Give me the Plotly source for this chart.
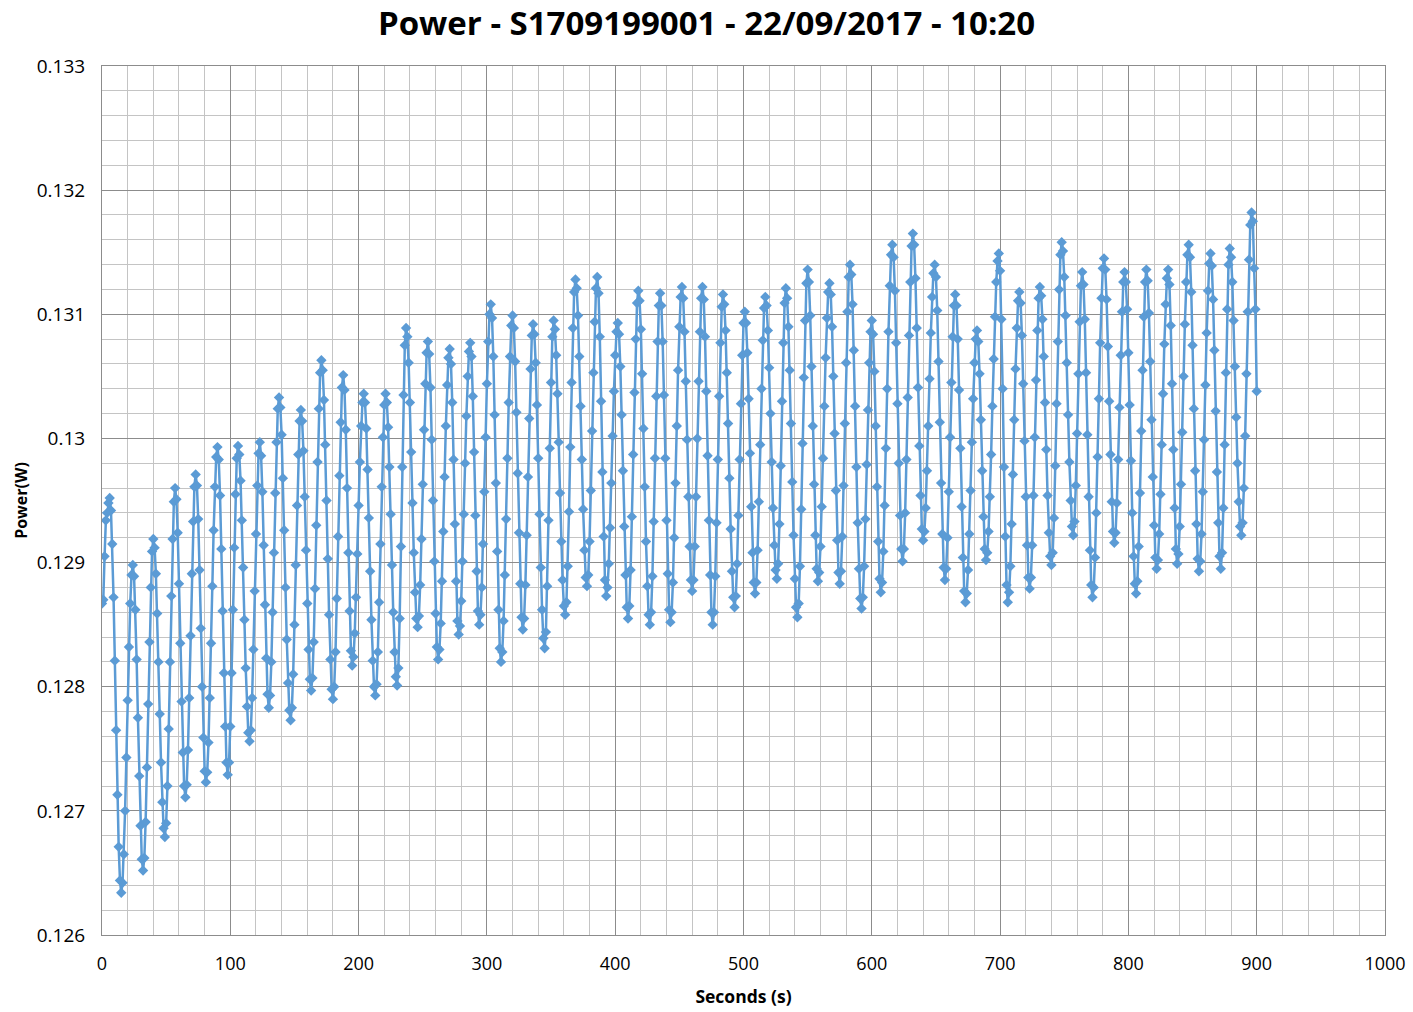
import plotly.graph_objects as go

# Power readings (W x 1e5), one sample per second
power_000_098 = [
    12867, 12870, 12905, 12934, 12940, 12948, 12952,
    12942, 12915, 12872, 12821, 12765, 12713, 12671, 12644, 12634,
    12642, 12665, 12700, 12743, 12789, 12832, 12867, 12890, 12898,
    12889, 12862, 12822, 12775, 12728, 12688, 12661, 12652,
    12662, 12691, 12735, 12786, 12836, 12880, 12909, 12919,
    12912, 12891, 12859, 12820, 12778, 12739, 12707, 12686, 12679,
    12690, 12720, 12766, 12820, 12873, 12919, 12949, 12960,
    12951, 12924, 12883, 12835, 12788, 12747, 12720, 12711,
    12721, 12749, 12791, 12841, 12891, 12933, 12961, 12971,
    12962, 12935, 12894, 12847, 12800, 12759, 12732, 12723,
    12731, 12755, 12791, 12835, 12881, 12926, 12961, 12985, 12993,
    12983, 12954, 12911, 12861, 12811, 12768, 12739, 12729,
]
power_099_195 = [
    12739, 12768, 12811, 12862, 12912, 12955, 12984, 12994,
    12987, 12966, 12934, 12896, 12854, 12815, 12784, 12763, 12756,
    12765, 12791, 12830, 12877, 12923, 12962, 12988, 12997,
    12986, 12957, 12914, 12866, 12823, 12794, 12783,
    12793, 12820, 12860, 12908, 12956, 12997, 13024, 13033,
    13025, 13003, 12968, 12926, 12880, 12838, 12803, 12781, 12773,
    12783, 12810, 12850, 12898, 12946, 12987, 13014, 13023,
    13014, 12990, 12953, 12910, 12867, 12830, 12806, 12797,
    12807, 12836, 12879, 12930, 12981, 13024, 13053, 13063,
    13055, 13031, 12995, 12950, 12903, 12858, 12822, 12798, 12790,
    12800, 12828, 12871, 12921, 12970, 13013, 13041, 13051,
    13039, 13007, 12960, 12908, 12861, 12829, 12817,
]
power_196_294 = [
    12824, 12843, 12872, 12907, 12946, 12981, 13010, 13029, 13036,
    13029, 13008, 12975, 12936, 12893, 12854, 12821, 12800, 12793,
    12802, 12828, 12868, 12915, 12961, 13001, 13027, 13036,
    13029, 13009, 12977, 12939, 12898, 12860, 12828, 12808, 12801,
    12815, 12855, 12913, 12977, 13035, 13075, 13089,
    13082, 13061, 13029, 12989, 12948, 12908, 12876, 12855, 12848,
    12857, 12882, 12919, 12963, 13007, 13044, 13069, 13078,
    13068, 13041, 12999, 12950, 12901, 12859, 12832, 12822,
    12830, 12851, 12885, 12925, 12969, 13010, 13043, 13065, 13072,
    13060, 13029, 12983, 12931, 12885, 12853, 12842,
    12849, 12869, 12901, 12939, 12980, 13018, 13050, 13070, 13077,
    13066, 13034, 12989, 12938, 12893, 12861, 12850,
]
power_295_393 = [
    12858, 12880, 12915, 12957, 13001, 13044, 13078, 13100, 13108,
    13097, 13066, 13019, 12964, 12909, 12862, 12831, 12820,
    12828, 12853, 12890, 12935, 12984, 13029, 13066, 13091, 13099,
    13089, 13062, 13021, 12972, 12924, 12883, 12856, 12846,
    12855, 12882, 12922, 12969, 13016, 13056, 13083, 13092,
    13084, 13061, 13027, 12984, 12939, 12896, 12862, 12839, 12831,
    12844, 12881, 12934, 12992, 13045, 13082, 13095,
    13088, 13067, 13036, 12997, 12956, 12917, 12886, 12865, 12858,
    12868, 12897, 12941, 12993, 13045, 13089, 13118, 13128,
    13121, 13099, 13066, 13026, 12983, 12943, 12910, 12888, 12881,
    12890, 12917, 12958, 13006, 13053, 13094, 13121, 13130,
    13117, 13082, 13030, 12973, 12921, 12886, 12873,
]
power_394_493 = [
    12880, 12899, 12928, 12964, 13002, 13038, 13067, 13086, 13093,
    13084, 13058, 13019, 12974, 12929, 12890, 12864, 12855,
    12865, 12894, 12937, 12987, 13037, 13080, 13109, 13119,
    13111, 13088, 13052, 13008, 12961, 12917, 12881, 12858, 12850,
    12860, 12889, 12933, 12984, 13034, 13078, 13107, 13117,
    13107, 13078, 13035, 12984, 12934, 12891, 12862, 12852,
    12860, 12884, 12920, 12964, 13010, 13055, 13090, 13114, 13122,
    13113, 13086, 13046, 12999, 12953, 12913, 12886, 12877,
    12886, 12913, 12953, 13000, 13046, 13086, 13113, 13122,
    13112, 13082, 13038, 12986, 12934, 12890, 12860, 12850,
    12860, 12889, 12932, 12983, 13034, 13077, 13106, 13116,
    13108, 13087, 13053, 13012, 12968, 12927, 12893, 12872, 12864,
]
power_494_592 = [
    12873, 12899, 12938, 12983, 13028, 13067, 13093, 13102,
    13093, 13069, 13032, 12988, 12945, 12908, 12884, 12875,
    12884, 12910, 12949, 12995, 13040, 13079, 13105, 13114,
    13107, 13087, 13057, 13020, 12981, 12944, 12914, 12894, 12887,
    12899, 12931, 12978, 13030, 13077, 13109, 13121,
    13113, 13090, 13055, 13012, 12965, 12922, 12887, 12864, 12856,
    12867, 12897, 12943, 12996, 13049, 13095, 13125, 13136,
    13126, 13099, 13058, 13010, 12963, 12922, 12895, 12885,
    12892, 12913, 12945, 12984, 13026, 13065, 13097, 13118, 13125,
    13116, 13090, 13050, 13004, 12958, 12918, 12892, 12883,
    12893, 12921, 12962, 13012, 13061, 13102, 13130, 13140,
    13132, 13108, 13071, 13026, 12977, 12932, 12895, 12871, 12863,
]
power_593_689 = [
    12872, 12897, 12935, 12979, 13023, 13061, 13086, 13095,
    13084, 13054, 13010, 12961, 12917, 12887, 12876,
    12884, 12909, 12946, 12992, 13040, 13086, 13123, 13148, 13156,
    13146, 13119, 13077, 13028, 12980, 12938, 12911, 12901,
    12911, 12940, 12983, 13033, 13083, 13126, 13155, 13165,
    13156, 13129, 13089, 13041, 12994, 12954, 12927, 12918,
    12925, 12944, 12974, 13010, 13048, 13085, 13114, 13133, 13140,
    13130, 13103, 13062, 13013, 12964, 12923, 12896, 12886,
    12895, 12920, 12957, 13001, 13045, 13082, 13107, 13116,
    13107, 13080, 13039, 12992, 12945, 12904, 12877, 12868,
    12875, 12894, 12923, 12958, 12997, 13032, 13061, 13080, 13087,
    13078, 13052, 13015, 12974, 12937, 12911, 12902,
]
power_690_789 = [
    12908, 12925, 12953, 12987, 13026, 13064, 13098, 13126, 13143, 13149,
    13135, 13096, 13040, 12977, 12921, 12882, 12868,
    12876, 12897, 12931, 12971, 13015, 13056, 13089, 13111, 13118,
    13109, 13083, 13044, 12998, 12953, 12914, 12888, 12879,
    12888, 12914, 12954, 13001, 13047, 13087, 13113, 13122,
    13115, 13096, 13066, 13029, 12991, 12954, 12924, 12905, 12898,
    12908, 12936, 12978, 13028, 13078, 13120, 13148, 13158,
    13151, 13130, 13099, 13061, 13019, 12981, 12950, 12929, 12922,
    12933, 12962, 13004, 13052, 13094, 13123, 13134,
    13124, 13096, 13053, 13003, 12953, 12910, 12882, 12872,
    12880, 12904, 12940, 12985, 13032, 13077, 13113, 13137, 13145,
    13136, 13112, 13074, 13030, 12987, 12949, 12925, 12916,
]
power_790_900 = [
    12924, 12948, 12983, 13025, 13067, 13102, 13126, 13134,
    13126, 13104, 13069, 13027, 12982, 12940, 12905, 12883, 12875,
    12885, 12913, 12956, 13006, 13055, 13098, 13126, 13136,
    13127, 13101, 13062, 13015, 12969, 12930, 12904, 12895,
    12902, 12923, 12955, 12995, 13036, 13076, 13108, 13129, 13136,
    13124, 13091, 13044, 12991, 12944, 12911, 12899,
    12907, 12929, 12963, 13005, 13050, 13092, 13126, 13148, 13156,
    13146, 13118, 13075, 13024, 12974, 12931, 12903, 12893,
    12901, 12923, 12957, 12999, 13043, 13085, 13119, 13141, 13149,
    13139, 13112, 13071, 13022, 12973, 12932, 12905, 12895,
    12908, 12944, 12995, 13053, 13104, 13140, 13153,
    13146, 13126, 13095, 13058, 13017, 12980, 12949, 12929, 12922,
    12932, 12960, 13002, 13052, 13102, 13144, 13172, 13182,
    13175, 13137, 13104, 13038,
]

y_tick_vals = [0.126, 0.127, 0.128, 0.129, 0.130, 0.131, 0.132, 0.133]
y_tick_text = ['0.126', '0.127', '0.128', '0.129', '0.13', '0.131', '0.132', '0.133']
x_tick_vals = [0, 100, 200, 300, 400, 500, 600, 700, 800, 900, 1000]

raw = (power_000_098 + power_099_195 + power_196_294 + power_295_393 + power_394_493
       + power_494_592 + power_593_689 + power_690_789 + power_790_900)
power = [v / 100000 for v in raw]
seconds = list(range(len(power)))

font_family = 'Open Sans, Noto Sans, Liberation Sans, sans-serif'
major_grid = '#8c8c8c'
minor_grid = '#c4c4c4'

fig = go.Figure(go.Scatter(
    x=seconds, y=power,
    mode='lines+markers',
    line=dict(color='#5B9BD5', width=2.5),
    marker=dict(symbol='diamond', size=8, color='#5B9BD5'),
    showlegend=False,
))

fig.update_layout(
    width=1413, height=1012,
    paper_bgcolor='white', plot_bgcolor='white',
    margin=dict(l=102, r=28, t=66, b=77),
    font=dict(family=font_family, size=16, color='#000000'),
    title=dict(text='<b>Power - S1709199001 - 22/09/2017 - 10:20</b>',
               x=0.5, xanchor='center', y=0.977, yanchor='middle',
               font=dict(size=33, color='#000000', family=font_family)),
)
fig.update_xaxes(
    range=[0, 1000], tickvals=x_tick_vals, automargin=False,
    showgrid=True, gridcolor=major_grid, gridwidth=1,
    minor=dict(dtick=20, showgrid=True, gridcolor=minor_grid, gridwidth=1),
    showline=True, linecolor=major_grid, mirror=True, zeroline=False,
    ticks='', tickfont=dict(size=18), ticklabelstandoff=12,
    title=dict(text='<b>Seconds (s)</b>', font=dict(size=17.5), standoff=17),
)
fig.update_yaxes(
    range=[0.126, 0.133], tickvals=y_tick_vals, ticktext=y_tick_text, automargin=False,
    showgrid=True, gridcolor=major_grid, gridwidth=1,
    minor=dict(dtick=0.0002, showgrid=True, gridcolor=minor_grid, gridwidth=1),
    showline=True, linecolor=major_grid, mirror=True, zeroline=False,
    ticks='', tickfont=dict(size=19), ticklabelstandoff=12,
    title=dict(text='<b>Power(W)</b>', font=dict(size=16), standoff=5),
)

# drop the browser's default body margin so the figure sits at the page origin
fig.write_html('out.html', config={'displayModeBar': False},
               post_script="document.body.style.margin='0';")
